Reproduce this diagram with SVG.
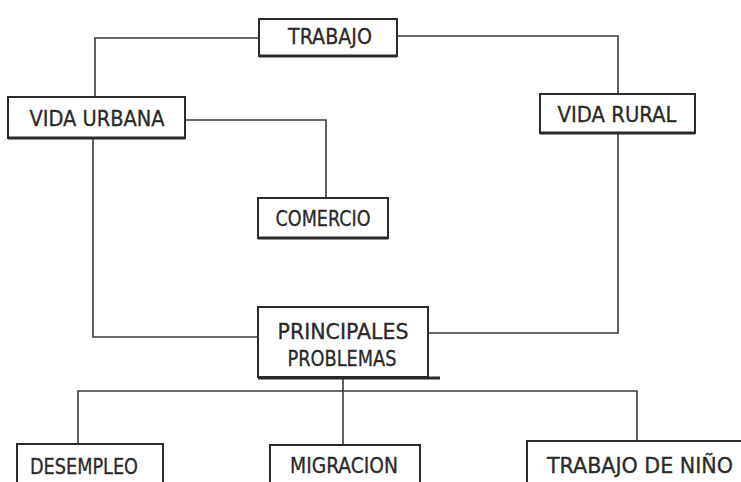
<svg xmlns="http://www.w3.org/2000/svg" width="741" height="482" viewBox="0 0 741 482">
<style>
.box{fill:#fff;stroke:#2a2a2a;stroke-width:2}
.sh{stroke:#2a2a2a;stroke-width:3;fill:none}
.ln{fill:none;stroke:#3a3a3a;stroke-width:1.6}
text{font-family:"Liberation Sans Narrow","DejaVu Sans Condensed","DejaVu Sans",sans-serif;font-stretch:condensed;font-size:22px;fill:#2a2a2a;stroke:#2a2a2a;stroke-width:0.3;text-anchor:middle}
</style>
<rect width="741" height="482" fill="#fff"/>
<g id="connectors">
<polyline class="ln" points="258,38 95,38 95,97"/>
<polyline class="ln" points="397,36 618,36 618,94"/>
<polyline class="ln" points="185,120 326,120 326,198"/>
<polyline class="ln" points="93,138 93,337 258,337"/>
<polyline class="ln" points="618,133 618,333 428,333"/>
<polyline class="ln" points="343,378 343,445"/>
<polyline class="ln" points="78,445 78,391 637,391 637,441"/>
</g>
<g id="trabajo">
<rect class="box" x="259" y="19" width="138" height="37"/>
<line class="sh" x1="259" y1="56" x2="397" y2="56"/>
<text x="330" y="44" textLength="84" lengthAdjust="spacingAndGlyphs">TRABAJO</text>
</g>
<g id="vida-urbana">
<rect class="box" x="8" y="97" width="177" height="41"/>
<line class="sh" x1="8" y1="138" x2="185" y2="138"/>
<text x="97" y="126" textLength="135" lengthAdjust="spacingAndGlyphs">VIDA URBANA</text>
</g>
<g id="vida-rural">
<rect class="box" x="540" y="94" width="155" height="39"/>
<line class="sh" x1="540" y1="133" x2="695" y2="133"/>
<text x="617" y="122" textLength="119" lengthAdjust="spacingAndGlyphs">VIDA RURAL</text>
</g>
<g id="comercio">
<rect class="box" x="258" y="198" width="130" height="40"/>
<line class="sh" x1="258" y1="238" x2="388" y2="238"/>
<text x="323" y="226" textLength="95" lengthAdjust="spacingAndGlyphs">COMERCIO</text>
</g>
<g id="principales-problemas">
<rect class="box" x="258" y="307" width="170" height="70"/>
<line class="sh" x1="258" y1="378" x2="440" y2="378"/>
<text x="343" y="339" textLength="131" lengthAdjust="spacingAndGlyphs">PRINCIPALES</text>
<text x="342" y="366" textLength="109" lengthAdjust="spacingAndGlyphs">PROBLEMAS</text>
</g>
<g id="desempleo">
<rect class="box" x="17" y="444" width="146" height="46"/>
<text x="84" y="474" textLength="108" lengthAdjust="spacingAndGlyphs">DESEMPLEO</text>
</g>
<g id="migracion">
<rect class="box" x="270" y="445" width="150" height="45"/>
<text x="344" y="473" textLength="108" lengthAdjust="spacingAndGlyphs">MIGRACION</text>
</g>
<g id="trabajo-de-nino">
<rect class="box" x="527" y="441" width="220" height="49"/>
<text x="640" y="473" textLength="186" lengthAdjust="spacingAndGlyphs">TRABAJO DE NIÑO</text>
</g>
</svg>
